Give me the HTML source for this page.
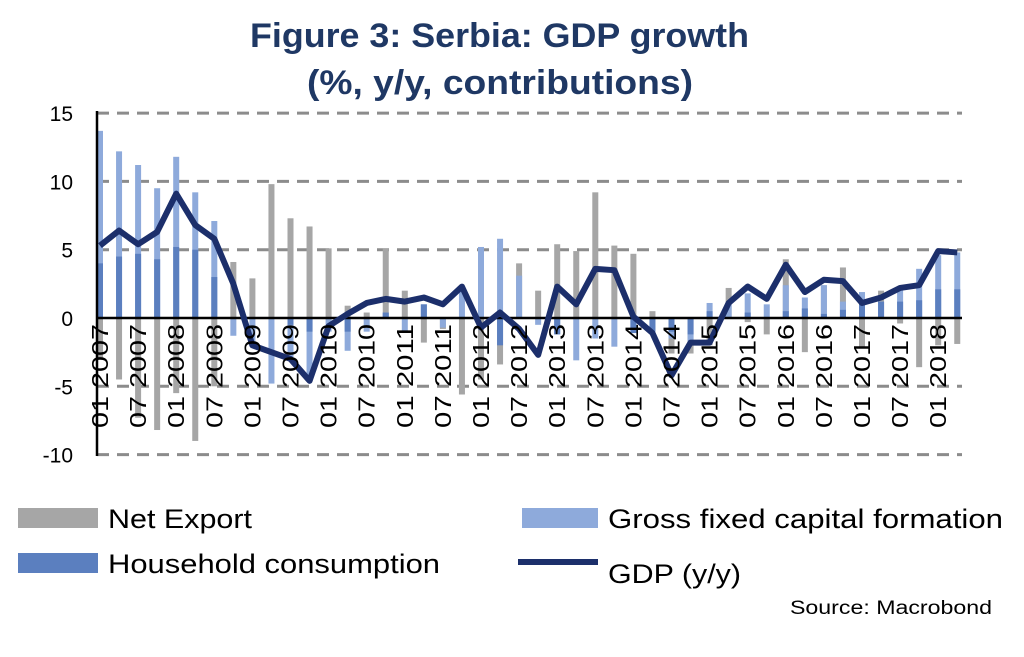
<!DOCTYPE html>
<html><head><meta charset="utf-8"><style>
body{margin:0;background:#fff;width:1024px;height:652px;overflow:hidden;font-family:"Liberation Sans",sans-serif}
</style></head><body>
<svg id="s" width="1024" height="652" xmlns="http://www.w3.org/2000/svg" font-family="Liberation Sans, sans-serif">
<text x="250" y="47" font-size="34" font-weight="bold" fill="#1f3864" textLength="499" lengthAdjust="spacingAndGlyphs">Figure 3: Serbia: GDP growth</text>
<text x="307" y="94" font-size="34" font-weight="bold" fill="#1f3864" textLength="386" lengthAdjust="spacingAndGlyphs">(%, y/y, contributions)</text>
</svg>
<script>
const s=document.getElementById('s');const NS='http://www.w3.org/2000/svg';
function el(t,a,txt){const e=document.createElementNS(NS,t);for(const k in a)e.setAttribute(k,a[k]);if(txt)e.textContent=txt;s.appendChild(e);return e;}
const Y=v=>318-v*13.66, X=i=>100+i*19.05;
for(const v of [15,10,5,-5,-10]) el('line',{x1:97,x2:962,y1:Y(v),y2:Y(v),stroke:'#8c8c8c','stroke-width':3,'stroke-dasharray':'12,8'});
for(const v of [15,10,5,0,-5,-10]) el('text',{x:73,y:Y(v)+8,'text-anchor':'end','font-size':21,fill:'#000'},String(v));
const d=[[5.3,4,13.7,-3],[6.4,4.5,12.2,-4.5],[5.4,4.7,11.2,-7.3],[6.3,4.3,9.5,-8.2],[9.1,5.2,11.8,-5.5],[6.8,5,9.2,-9],[5.8,3,7.1,-5],[2.5,0,-1.3,4.1],
[-2,0,-2,2.9],[-2.5,0,-4.8,9.8],[-3,-0.5,-3,7.3],[-4.6,-1,-4.6,6.7],[-0.6,0,-1,5.1],[0.3,-1,-2.4,0.9],[1.1,0,-1,0.4],[1.4,0.4,0.4,5.1],
[1.2,0,-1,2],[1.5,1,1,-1.8],[1,0,-0.7,-0.8],[2.3,0,2,-5.6],[-0.7,0,5.2,-4.5],[0.4,-2,5.8,-3.4],[-0.8,0,3.1,4],[-2.7,0,-0.5,2],
[2.3,-1.2,-1.2,5.4],[1,0,-3.1,4.9],[3.6,0,-1.5,9.2],[3.5,0,-2.1,5.3],[0.1,-1.1,-1.1,4.7],[-1.1,-1,-1,0.5],[-4.2,-1,-1.5,-2.6],[-1.8,-1.2,-1.8,-2.6],
[-1.8,0.5,1.1,-2],[1.1,0,1,2.2],[2.3,0.4,1.8,-0.3],[1.4,0,1,-1.2],[3.9,0.5,2.4,4.3],[1.9,0.7,1.5,-2.5],[2.8,0.3,2.4,2.4],[2.7,0.6,1.2,3.7],
[1.1,1,1.9,-2.2],[1.5,1.2,1.2,2],[2.2,1.2,2.1,-0.4],[2.4,1.3,3.6,-3.6],[4.9,2.1,4.6,-2],[4.8,2.1,4.8,-1.9]];
function bar(i,v,c){if(!v)return;const y1=Y(Math.max(0,v)),y2=Y(Math.min(0,v));el('rect',{x:X(i)-3,y:y1,width:6,height:y2-y1,fill:c});}
d.forEach((r,i)=>{bar(i,r[3],'#a6a6a6');bar(i,r[2],'#8eaadb');bar(i,r[1],'#5b7fbf');});
el('line',{x1:97,x2:962,y1:318,y2:318,stroke:'#000','stroke-width':2.5});
el('line',{x1:97,x2:97,y1:111,y2:456,stroke:'#000','stroke-width':2.5});
el('polyline',{points:d.map((r,i)=>X(i)+','+Y(r[0])).join(' '),fill:'none',stroke:'#1c2f6b','stroke-width':6,'stroke-linejoin':'round'});
for(let i=0;i<46;i+=2){const yr=2007+Math.floor(i/4);const m=i%4==0?'01':'07';
el('text',{x:0,y:0,transform:`translate(${X(i)+8},324) rotate(-90)`,'text-anchor':'end','font-size':23,fill:'#000',textLength:104,lengthAdjust:'spacingAndGlyphs'},m+' '+yr);}
el('rect',{x:18,y:508,width:80,height:20,fill:'#a6a6a6'});
el('text',{x:108,y:528,'font-size':27,fill:'#000',textLength:144,lengthAdjust:'spacingAndGlyphs'},'Net Export');
el('rect',{x:522,y:508,width:76,height:20,fill:'#8eaadb'});
el('text',{x:608,y:528,'font-size':27,fill:'#000',textLength:395,lengthAdjust:'spacingAndGlyphs'},'Gross fixed capital formation');
el('rect',{x:18,y:553,width:80,height:20,fill:'#5b7fbf'});
el('text',{x:108,y:573,'font-size':27,fill:'#000',textLength:332,lengthAdjust:'spacingAndGlyphs'},'Household consumption');
el('line',{x1:518,x2:598,y1:562,y2:562,stroke:'#1c2f6b','stroke-width':6});
el('text',{x:608,y:583,'font-size':27,fill:'#000',textLength:133,lengthAdjust:'spacingAndGlyphs'},'GDP (y/y)');
el('text',{x:790,y:614,'font-size':19,fill:'#000',textLength:202,lengthAdjust:'spacingAndGlyphs'},'Source: Macrobond');
</script>
</body></html>
